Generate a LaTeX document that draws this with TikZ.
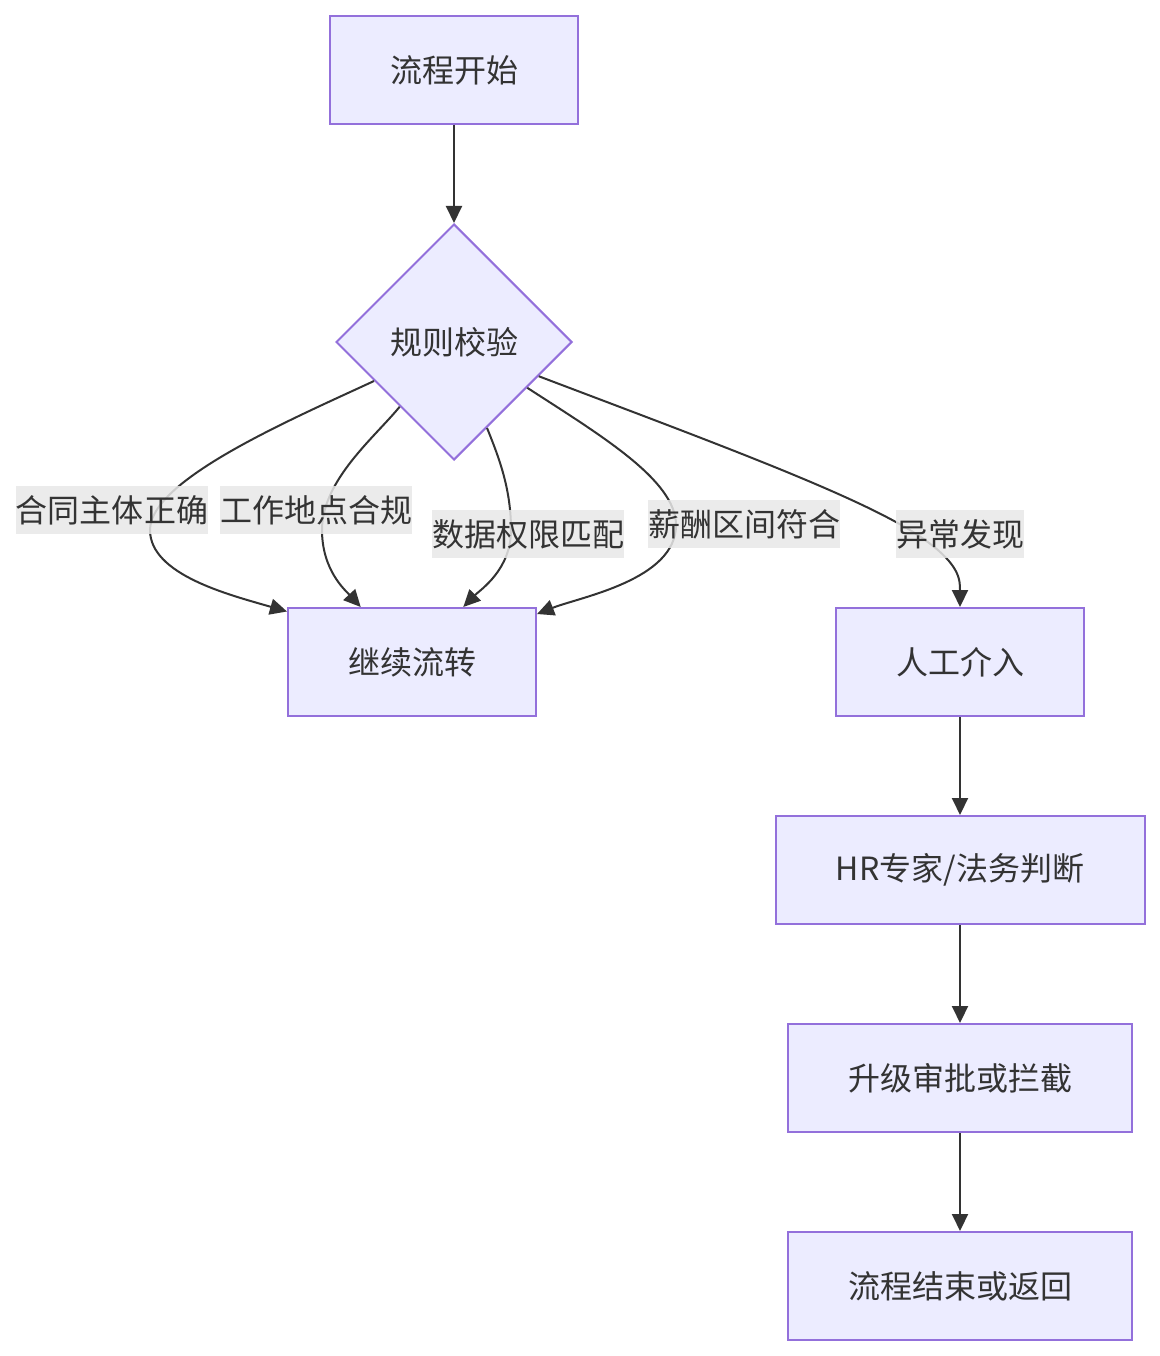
\documentclass[tikz,border=0pt]{standalone}
\usepackage{fontspec}
\setmainfont{Noto Sans CJK SC}
\usetikzlibrary{shapes.geometric,arrows.meta}
\definecolor{boxfill}{HTML}{ECECFF}
\definecolor{boxline}{HTML}{9370DB}
\definecolor{txt}{HTML}{333333}
\definecolor{lblbg}{HTML}{E8E8E8}
\tikzset{
  box/.style={draw=boxline, fill=boxfill, line width=2pt, minimum height=108pt,
    text=txt, font=\fontsize{32}{38}\selectfont, inner sep=0pt},
  dbox/.style={diamond, aspect=1, draw=boxline, fill=boxfill, line width=2pt,
    minimum width=236pt, minimum height=236pt, text=txt,
    font=\fontsize{32}{38}\selectfont, inner sep=0pt},
  lbl/.style={fill=lblbg, fill opacity=0.85, text opacity=1, text=txt,
    inner sep=0pt, minimum height=48pt, font=\fontsize{32}{38}\selectfont},
  edge/.style={draw=txt, line width=2pt, -{Triangle[length=17pt,width=16pt]}}
}
\begin{document}
\begin{tikzpicture}[x=1pt,y=-1pt]
\useasboundingbox (0,0) rectangle (1159,1356);
\node[box, minimum width=248pt] (start) at (454,70) {流程开始};
\node[dbox] (dia) at (454,342) {规则校验};
\node[box, minimum width=248pt] (cont) at (412,662) {继续流转};
\node[box, minimum width=248pt] (hum) at (960,662) {人工介入};
\node[box, minimum width=369pt] (hr) at (960,870) {HR专家/法务判断};
\node[box, minimum width=344pt] (up) at (960,1078) {升级审批或拦截};
\node[box, minimum width=344pt] (fin) at (960,1286) {流程结束或返回};

\draw[edge] (start) -- (dia);
\draw[edge] (dia.206) .. controls (290,420) and (150,480) .. (150,530)
  .. controls (150,575) and (230,595) .. (cont.158);
\draw[edge] (dia.230) .. controls (375,437) and (322,480) .. (322,530)
  .. controls (322,570) and (345,590) .. (cont.133);
\draw[edge] (dia.291) .. controls (500,460) and (511,490) .. (511,530)
  .. controls (511,570) and (480,590) .. (cont.47);
\draw[edge] (dia.328) .. controls (600,435) and (676,480) .. (676,525)
  .. controls (676,580) and (580,597) .. (cont.21);
\draw[edge] (dia.338) .. controls (720,445) and (870,500) .. (925,540)
  .. controls (960,565) and (960,580) .. (hum.north);
\draw[edge] (hum) -- (hr);
\draw[edge] (hr) -- (up);
\draw[edge] (up) -- (fin);

\node[lbl, minimum width=192pt] (l1) at (112,510) {合同主体正确};
\node[lbl, minimum width=192pt] (l2) at (316,510) {工作地点合规};
\node[lbl, minimum width=192pt] (l3) at (528,534) {数据权限匹配};
\node[lbl, minimum width=192pt] (l4) at (744,524) {薪酬区间符合};
\node[lbl, minimum width=128pt] (l5) at (960,534) {异常发现};
\end{tikzpicture}
\end{document}
